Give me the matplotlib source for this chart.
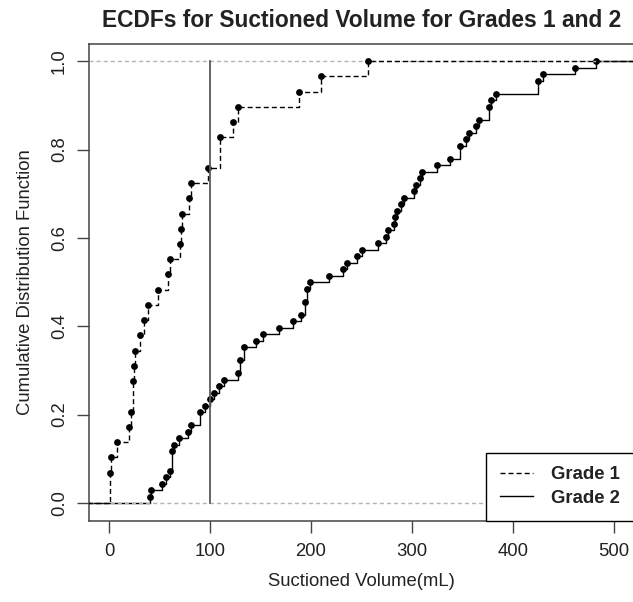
import numpy as np
import matplotlib.pyplot as plt
from matplotlib.lines import Line2D

plt.rcParams.update({
    'font.family': ['Liberation Sans', 'DejaVu Sans'],
    'font.size': 13.3,
    'text.color': '#222222',
    'axes.labelcolor': '#222222',
    'xtick.labelcolor': '#222222',
    'ytick.labelcolor': '#222222',
    'xtick.color': '#444444',
    'ytick.color': '#444444',
})

# Suctioned volume (mL) per patient
grade1 = [1, 1, 2, 8, 20, 22, 24, 24, 25, 26, 31, 34, 38, 48, 58, 60, 70, 71,
          72, 79, 81, 98, 110, 110, 123, 128, 188, 210, 256]
grade2 = [40, 41, 52, 56, 60, 62, 62, 62, 64, 69, 78, 81, 90, 90, 95, 100, 104,
          109, 114, 128, 130, 130, 134, 134, 145, 152, 168, 182, 190, 194, 194,
          196, 196, 199, 218, 232, 236, 246, 250, 266, 274, 276, 282, 283, 285,
          289, 292, 302, 304, 308, 310, 325, 338, 348, 348, 354, 357, 363, 366,
          376, 376, 378, 383, 425, 425, 430, 462, 482]
cutoff = 100
labels = ['Grade 1', 'Grade 2']
x_ticks = [0, 100, 200, 300, 400, 500]
y_ticks = [0.0, 0.2, 0.4, 0.6, 0.8, 1.0]

XLIM = (-20, 520)
YLIM = (-0.04, 1.04)

DASH1 = (0, (3.6, 2.2))
DASH_GRAY = (0, (2.9, 2.2))


def ecdf(values):
    v, counts = np.unique(values, return_counts=True)
    return v, np.cumsum(counts) / len(values)


def draw_ecdf(ax, values, ls, z):
    v, f = ecdf(values)
    # extend the steps past both plot edges like R does
    xs = np.concatenate([[XLIM[0] - 50], v, [XLIM[1] + 50]])
    ys = np.concatenate([[0], f, [1]])
    ax.step(xs, ys, where='post', color='black', lw=1.0, linestyle=ls, zorder=z)
    ax.plot(v, f, 'o', color='black', ms=4.9, mew=0, zorder=z + 0.1)


fig = plt.figure(figsize=(6.33, 6.02), dpi=100)
ax = fig.add_axes([89 / 633, (602 - 520.7) / 602, (634 - 89) / 633, (520.7 - 43.5) / 602])

# grade 2 drawn first, then the 0/1 guide lines, then grade 1 on top
draw_ecdf(ax, grade2, '-', 2)
ax.axhline(0, color='#b3b3b3', lw=1.0, linestyle=DASH_GRAY, zorder=3)
ax.axhline(1, color='#b3b3b3', lw=1.0, linestyle=DASH_GRAY, zorder=3)
draw_ecdf(ax, grade1, DASH1, 4)
ax.plot([cutoff, cutoff], [0, 1], color='#5a5a5a', lw=1.3, zorder=5)

ax.set_xlim(*XLIM)
ax.set_ylim(*YLIM)
ax.set_xticks(x_ticks)
ax.set_yticks(y_ticks)
ax.set_yticklabels([f"{t:.1f}" for t in y_ticks], rotation=90, va='center')

for sp in ax.spines.values():
    sp.set_color('#444444')
    sp.set_linewidth(1.1)
ax.tick_params(axis='both', length=8.6, width=1.0, direction='out')
ax.tick_params(axis='x', pad=7.7)
ax.tick_params(axis='y', pad=6.5)

ax.set_xlabel("Suctioned Volume(mL)", labelpad=9)
ax.set_ylabel("Cumulative Distribution Function", labelpad=12)
ax.set_title("ECDFs for Suctioned Volume for Grades 1 and 2",
             fontsize=16.4, fontweight='bold', pad=11.7)

handles = [Line2D([], [], color='black', lw=1.0, linestyle=DASH1),
           Line2D([], [], color='black', lw=1.0, linestyle='-')]
leg = ax.legend(handles, labels, loc='lower right', borderaxespad=0,
                fancybox=False, framealpha=1, edgecolor='black',
                prop={'weight': 'bold', 'size': 13.3},
                borderpad=0.75, handlelength=1.8, handletextpad=1.0,
                labelspacing=0.35)
leg.get_frame().set_linewidth(1.0)
leg.set_zorder(10)

fig.savefig('out.png', dpi=100)
